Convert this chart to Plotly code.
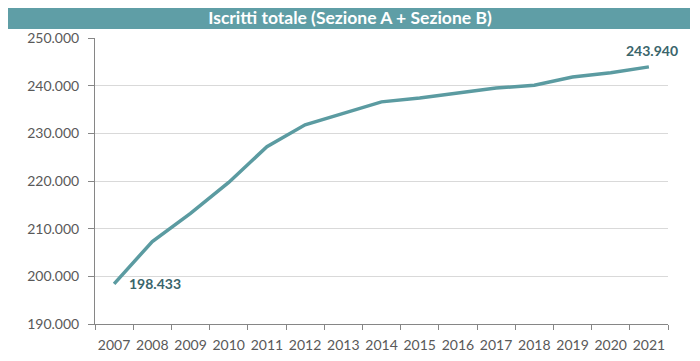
import plotly.graph_objects as go

years = [str(y) for y in range(2007, 2022)]
iscritti = [198433, 207300, 213200, 219700, 227200, 231800, 234200, 236600,
            237400, 238400, 239500, 240100, 241800, 242700, 243940]
y_ticks = [190000, 200000, 210000, 220000, 230000, 240000, 250000]

LINE = "#5B9BA1"
BAR = "#5F9EA6"
LABEL = "#3A656B"
TXT = "#595959"
FONT = "Lato, Open Sans, sans-serif"

# the page body has an 8px margin, so the figure is sized to fit the window
W, H = 692, 353
L, R, T, B = 87, 32, 30, 37


def fmt(v):
    return f"{v:,}".replace(",", ".")


fig = go.Figure()
fig.add_trace(go.Scatter(
    x=years, y=iscritti, mode="lines",
    line=dict(color=LINE, width=3.5),
    hoverinfo="skip", showlegend=False,
))

first, last = 0, len(years) - 1
fig.add_annotation(x=first, y=iscritti[first], text=f"<b>{fmt(iscritti[first])}</b>",
                   showarrow=False, xanchor="left", yanchor="middle", xshift=13,
                   font=dict(family=FONT, size=14, color=LABEL))
fig.add_annotation(x=last, y=iscritti[last], text=f"<b>{fmt(iscritti[last])}</b>",
                   showarrow=False, xanchor="center", yanchor="bottom", xshift=3, yshift=6,
                   font=dict(family=FONT, size=14, color=LABEL))

# title band
pw, ph = W - L - R, H - T - B
fig.add_shape(type="rect", xref="paper", yref="paper",
              x0=(0 - L) / pw, x1=(682 - L) / pw,
              y0=(H - B - 21) / ph, y1=(H - B) / ph,
              fillcolor=BAR, line=dict(width=0), layer="below")

fig.update_layout(
    width=W, height=H,
    margin=dict(l=L, r=R, t=T, b=B),
    paper_bgcolor="white", plot_bgcolor="white",
    separators=",.",
    font=dict(family=FONT, size=14, color=TXT),
    title=dict(text="<b>Iscritti totale (Sezione A + Sezione B)</b>",
               x=342 / W, xanchor="center", y=1 - 10 / H, yanchor="middle",
               xref="container", yref="container",
               font=dict(family=FONT, size=17.5, color="white")),
    xaxis=dict(type="category", range=[-0.5, 14.5], tickson="boundaries",
               ticks="outside", ticklen=5, tickcolor="#868686", tickangle=0,
               showline=True, linecolor="#868686", linewidth=1,
               showgrid=False, tickfont=dict(size=14, color=TXT),
               ticklabelstandoff=8, automargin=False, fixedrange=True),
    yaxis=dict(range=[190000, 250000], tickvals=y_ticks, tickformat=",d",
               ticks="outside", ticklen=6, tickcolor="#868686",
               showline=True, linecolor="#868686", linewidth=1,
               showgrid=True, gridcolor="#D9D9D9", gridwidth=1,
               zeroline=False, tickfont=dict(size=14, color=TXT),
               ticklabelstandoff=6, automargin=False, fixedrange=True),
)

fig.write_html("out.html")
